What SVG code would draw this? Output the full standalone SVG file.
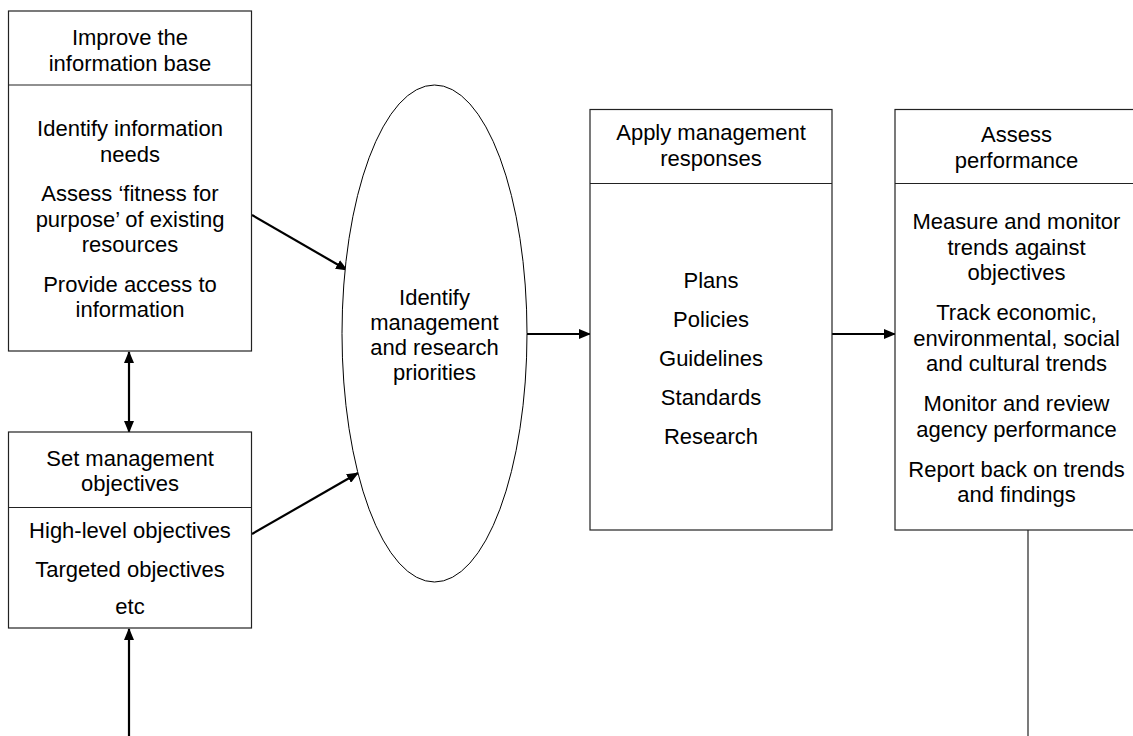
<svg xmlns="http://www.w3.org/2000/svg" width="1133" height="736" viewBox="0 0 1133 736">
<style>
.box{fill:#fff;stroke:#222;stroke-width:1.2}
.div{stroke:#222;stroke-width:1.2}
.t{font-family:"Liberation Sans",Arial,sans-serif;font-size:22px;fill:#000;text-anchor:middle}
.arr{stroke:#000;stroke-width:2.2;fill:none}
.thin{stroke:#222;stroke-width:1.2;fill:none}
</style>
<defs>
<marker id="ah" markerUnits="userSpaceOnUse" markerWidth="12" markerHeight="10" refX="11" refY="5" orient="auto-start-reverse" viewBox="0 0 12 10">
<path d="M0,0 L12,5 L0,10 z" fill="#000"/>
</marker>
</defs>
<rect width="1133" height="736" fill="#fff"/>
<g id="connectors">
<line class="arr" x1="252" y1="215" x2="347" y2="270" marker-end="url(#ah)"/>
<line class="arr" x1="252" y1="534" x2="358" y2="473" marker-end="url(#ah)"/>
<line class="arr" x1="527" y1="334" x2="590" y2="334" marker-end="url(#ah)"/>
<line class="arr" x1="832" y1="334" x2="895" y2="334" marker-end="url(#ah)"/>
<line class="arr" x1="129" y1="352" x2="129" y2="432" marker-start="url(#ah)" marker-end="url(#ah)"/>
<line class="arr" x1="129" y1="736" x2="129" y2="629" marker-end="url(#ah)"/>
<line class="thin" x1="1028" y1="530" x2="1028" y2="736"/>
</g>
<g id="improve">
<rect class="box" x="8.5" y="11" width="243" height="340"/>
<line class="div" x1="8.5" y1="85" x2="251.5" y2="85"/>
<text class="t"><tspan x="130" y="44.5">Improve the</tspan><tspan x="130" y="70.5">information base</tspan></text>
<text class="t"><tspan x="130" y="136">Identify information</tspan><tspan x="130" y="161.5">needs</tspan><tspan x="130" y="201">Assess ‘fitness for</tspan><tspan x="130" y="226.5">purpose’ of existing</tspan><tspan x="130" y="252">resources</tspan><tspan x="130" y="291.5">Provide access to</tspan><tspan x="130" y="317">information</tspan></text>
</g>
<g id="objectives">
<rect class="box" x="8.5" y="432" width="243" height="196"/>
<line class="div" x1="8.5" y1="507.5" x2="251.5" y2="507.5"/>
<text class="t"><tspan x="130" y="466">Set management</tspan><tspan x="130" y="491">objectives</tspan></text>
<text class="t"><tspan x="130" y="537.5">High-level objectives</tspan><tspan x="130" y="577">Targeted objectives</tspan><tspan x="130" y="614">etc</tspan></text>
</g>
<g id="priorities">
<ellipse cx="434.5" cy="333.5" rx="92.5" ry="248.5" fill="#fff" stroke="#000" stroke-width="1"/>
<text class="t"><tspan x="434.5" y="304.5">Identify</tspan><tspan x="434.5" y="329.8">management</tspan><tspan x="434.5" y="355.1">and research</tspan><tspan x="434.5" y="380.4">priorities</tspan></text>
</g>
<g id="apply">
<rect class="box" x="590" y="109.5" width="242" height="420.5"/>
<line class="div" x1="590" y1="183.5" x2="832" y2="183.5"/>
<text class="t"><tspan x="711" y="139.5">Apply management</tspan><tspan x="711" y="166">responses</tspan></text>
<text class="t"><tspan x="711" y="287.5">Plans</tspan><tspan x="711" y="326.5">Policies</tspan><tspan x="711" y="365.5">Guidelines</tspan><tspan x="711" y="404.5">Standards</tspan><tspan x="711" y="443.5">Research</tspan></text>
</g>
<g id="assess">
<rect class="box" x="895" y="109.5" width="245" height="420.5"/>
<line class="div" x1="895" y1="183.5" x2="1140" y2="183.5"/>
<text class="t"><tspan x="1016.5" y="142">Assess</tspan><tspan x="1016.5" y="167.5">performance</tspan></text>
<text class="t"><tspan x="1016.5" y="229">Measure and monitor</tspan><tspan x="1016.5" y="254.5">trends against</tspan><tspan x="1016.5" y="280">objectives</tspan><tspan x="1016.5" y="320">Track economic,</tspan><tspan x="1016.5" y="345.5">environmental, social</tspan><tspan x="1016.5" y="371">and cultural trends</tspan><tspan x="1016.5" y="411">Monitor and review</tspan><tspan x="1016.5" y="436.5">agency performance</tspan><tspan x="1016.5" y="476.5">Report back on trends</tspan><tspan x="1016.5" y="502">and findings</tspan></text>
</g>
</svg>
